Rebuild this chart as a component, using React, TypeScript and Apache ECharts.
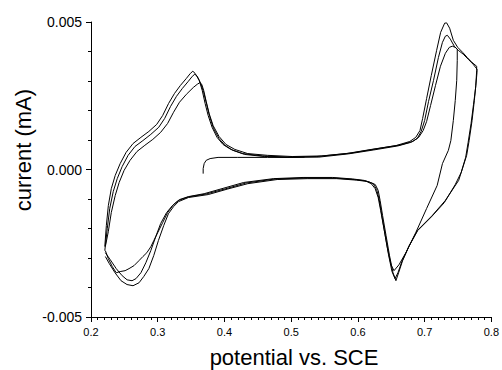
import React, { useEffect, useRef } from "react";
import * as echarts from "echarts";

// potential (V vs. SCE), current (mA)
const initialSweep: number[][] = [
  [0.3681, -0.00014], [0.3681, 0.00003], [0.3696, 0.0002], [0.3726, 0.00031],
  [0.3785, 0.00037], [0.3904, 0.00041], [0.42, 0.00041], [0.4644, 0.00041],
  [0.494, 0.00041], [0.52, 0.00042],
];

const cycleOuter: number[][] = [
  [0.2207, -0.00261], [0.223, -0.0019], [0.226, -0.00122], [0.2304, -0.00065],
  [0.2363, -0.0002], [0.2437, 0.0002], [0.2526, 0.00058], [0.263, 0.00088],
  [0.2748, 0.00109], [0.2867, 0.00129], [0.2985, 0.00153], [0.3074, 0.00183],
  [0.3163, 0.00224], [0.3252, 0.00258], [0.334, 0.00285], [0.343, 0.00309],
  [0.349, 0.00326], [0.3526, 0.00333], [0.356, 0.00326], [0.3622, 0.00302],
  [0.3667, 0.00268], [0.371, 0.00224], [0.3756, 0.00183], [0.3815, 0.00143],
  [0.3889, 0.00109], [0.3978, 0.00085], [0.4096, 0.00068], [0.4274, 0.00054],
  [0.457, 0.00046], [0.494, 0.00042], [0.5385, 0.00044], [0.583, 0.00054],
  [0.62, 0.00068], [0.657, 0.00081], [0.6778, 0.00095], [0.6867, 0.00109],
  [0.693, 0.00132], [0.697, 0.00173], [0.703, 0.00241], [0.71, 0.00319],
  [0.718, 0.00404], [0.724, 0.00465], [0.73, 0.00496], [0.733, 0.00497],
  [0.7375, 0.00479], [0.743, 0.00438], [0.7496, 0.00414], [0.757, 0.00397],
  [0.7637, 0.0038], [0.771, 0.00363], [0.778, 0.0035],
  [0.778, 0.00336], [0.7767, 0.00285], [0.7745, 0.00234], [0.7711, 0.00166],
  [0.7667, 0.00098], [0.763, 0.00048], [0.751, -0.00037], [0.731, -0.00105],
  [0.7114, -0.00156], [0.689, -0.00207], [0.677, -0.00258], [0.667, -0.00309],
  [0.661, -0.0035], [0.657, -0.00377], [0.6526, -0.0035], [0.6474, -0.00292],
  [0.6422, -0.00224], [0.637, -0.00156], [0.6333, -0.00105], [0.6304, -0.00071],
  [0.626, -0.00051], [0.6156, -0.00041], [0.598, -0.00036], [0.568, -0.00031],
  [0.524, -0.00031], [0.479, -0.00034], [0.435, -0.00048], [0.405, -0.00066],
  [0.3756, -0.00085], [0.346, -0.00095], [0.331, -0.00109], [0.3237, -0.00126],
  [0.316, -0.0015], [0.309, -0.0019], [0.301, -0.00241], [0.294, -0.00292],
  [0.2867, -0.00336], [0.279, -0.00363], [0.272, -0.00384], [0.263, -0.00394],
  [0.254, -0.0039], [0.245, -0.00377], [0.236, -0.0035], [0.2274, -0.00319],
  [0.2215, -0.00295],
];

const cycleMiddle: number[][] = [
  [0.2207, -0.00275], [0.2244, -0.002], [0.2281, -0.00132], [0.2333, -0.00075],
  [0.2393, -0.00031], [0.2467, 0.0001], [0.2556, 0.00048], [0.2659, 0.00078],
  [0.2778, 0.00098], [0.2896, 0.00119], [0.3015, 0.00143], [0.3104, 0.00173],
  [0.3193, 0.00214], [0.3281, 0.00248], [0.337, 0.00275], [0.3459, 0.00299],
  [0.3519, 0.00316], [0.3556, 0.00323], [0.3593, 0.00316], [0.3644, 0.00292],
  [0.3689, 0.00261], [0.3733, 0.00221], [0.3778, 0.0018], [0.3837, 0.00139],
  [0.3919, 0.00105], [0.4007, 0.00082], [0.4126, 0.00065], [0.4304, 0.00051],
  [0.46, 0.00044], [0.497, 0.00041], [0.5415, 0.00042], [0.5859, 0.00053],
  [0.623, 0.00066], [0.66, 0.0008], [0.6793, 0.00092], [0.6889, 0.00105],
  [0.6948, 0.00129], [0.7, 0.00166], [0.7059, 0.00231], [0.7133, 0.00302],
  [0.7207, 0.0038], [0.7267, 0.00431], [0.7311, 0.00452], [0.7341, 0.00455],
  [0.7385, 0.00442], [0.7444, 0.00418], [0.7504, 0.00404], [0.7578, 0.00391],
  [0.7652, 0.00374], [0.7726, 0.00357], [0.7785, 0.0034],
  [0.7785, 0.00329], [0.7763, 0.00275], [0.7733, 0.00221], [0.7696, 0.00156],
  [0.7652, 0.00092], [0.7615, 0.00041], [0.7548, -0.0001], [0.7459, -0.00051],
  [0.7296, -0.00112], [0.7104, -0.0016], [0.6896, -0.00207], [0.6763, -0.00261],
  [0.6659, -0.00312], [0.66, -0.0035], [0.6556, -0.0037], [0.6511, -0.00346],
  [0.6459, -0.00289], [0.6407, -0.00221], [0.6356, -0.00153], [0.6319, -0.00102],
  [0.6281, -0.00068], [0.623, -0.00048], [0.6126, -0.00039], [0.5948, -0.00034],
  [0.5652, -0.00029], [0.5207, -0.00029], [0.4763, -0.00032], [0.4319, -0.00046],
  [0.4022, -0.00065], [0.3726, -0.00083], [0.3459, -0.00093], [0.3311, -0.00105],
  [0.3222, -0.00122], [0.3133, -0.00146], [0.3044, -0.00183], [0.297, -0.00228],
  [0.2896, -0.00275], [0.2822, -0.00316], [0.2748, -0.0035], [0.2674, -0.0037],
  [0.2615, -0.00377], [0.2541, -0.00374], [0.2467, -0.0036], [0.2378, -0.00336],
  [0.2289, -0.00306], [0.2215, -0.00282],
];

const cycleInner: number[][] = [
  [0.2215, -0.00261], [0.2259, -0.00211], [0.2304, -0.00146], [0.2363, -0.00088],
  [0.2422, -0.00044], [0.2496, -0.00003], [0.2585, 0.00031], [0.2689, 0.00061],
  [0.2807, 0.00082], [0.2926, 0.00102], [0.3044, 0.00126], [0.3148, 0.00156],
  [0.3237, 0.00194], [0.3326, 0.00228], [0.343, 0.00255], [0.3533, 0.00278],
  [0.3593, 0.00289], [0.363, 0.00294], [0.3659, 0.00289], [0.3689, 0.00268],
  [0.3726, 0.00231], [0.377, 0.0019], [0.383, 0.00149], [0.3919, 0.00112],
  [0.4022, 0.00085], [0.4156, 0.00068], [0.4348, 0.00054], [0.4644, 0.00048],
  [0.5015, 0.00044], [0.5459, 0.00046], [0.5904, 0.00056], [0.6274, 0.0007],
  [0.663, 0.00083], [0.6822, 0.00095], [0.6911, 0.00109], [0.6978, 0.00132],
  [0.703, 0.00163], [0.7089, 0.00217], [0.7163, 0.00285], [0.7237, 0.0035],
  [0.7311, 0.00394], [0.737, 0.00414], [0.7415, 0.00418], [0.7459, 0.00414],
  [0.7489, 0.00408],
  [0.7489, 0.0037], [0.7481, 0.00302], [0.7459, 0.00234], [0.743, 0.00166],
  [0.7393, 0.00098], [0.7356, 0.00065], [0.7267, 0.0002], [0.7188, -0.00054],
  [0.703, -0.00132], [0.6867, -0.00214], [0.6719, -0.00282], [0.6615, -0.00323],
  [0.6541, -0.00343], [0.6496, -0.00323], [0.6444, -0.00268], [0.6393, -0.00204],
  [0.6341, -0.00139], [0.6304, -0.00095], [0.6259, -0.00065], [0.62, -0.00048],
  [0.6096, -0.00037], [0.5919, -0.00032], [0.5622, -0.00027], [0.5178, -0.00027],
  [0.4733, -0.00031], [0.4289, -0.00044], [0.3993, -0.00063], [0.3696, -0.00082],
  [0.3459, -0.00092], [0.3326, -0.00102], [0.3237, -0.00119], [0.3148, -0.00146],
  [0.3074, -0.0018], [0.3, -0.00214], [0.2941, -0.00241], [0.2896, -0.00262],
  [0.2837, -0.00282], [0.2778, -0.00295], [0.2719, -0.00309], [0.2644, -0.00326],
  [0.257, -0.00336], [0.2511, -0.00343], [0.2437, -0.00346], [0.2378, -0.0035],
  [0.2319, -0.00329], [0.2259, -0.00302], [0.2215, -0.00275],
];

const xTitle = "potential vs. SCE";
const yTitle = "current (mA)";

const FONT = "'Liberation Sans', Arial, Helvetica, sans-serif";

export default function App() {
  const ref = useRef<HTMLDivElement>(null);
  useEffect(() => {
    document.body.style.margin = "0";
    if (!ref.current) return;
    const chart = echarts.init(ref.current, null, { renderer: "svg" });
    const lineSeries = (name: string, data: number[][]) => ({
      name,
      type: "line",
      data,
      showSymbol: false,
      symbol: "none",
      smooth: false,
      lineStyle: { color: "#000", width: 1 },
      itemStyle: { color: "#000" },
      silent: true,
    });
    chart.setOption({
      animation: false,
      backgroundColor: "#fff",
      grid: { left: 91, right: 5, top: 22, bottom: 53, containLabel: false },
      xAxis: {
        type: "value",
        min: 0.2,
        max: 0.8,
        interval: 0.1,
        axisLine: { show: true, onZero: false, lineStyle: { color: "#000", width: 1 } },
        axisTick: { show: true, inside: false, length: 5, lineStyle: { color: "#000" } },
        minorTick: { show: true, splitNumber: 10, length: 3, lineStyle: { color: "#000" } },
        splitLine: { show: false },
        axisLabel: {
          color: "#000",
          fontSize: 11,
          fontFamily: FONT,
          margin: 9,
          formatter: (v: number) => v.toFixed(1),
        },
      },
      yAxis: {
        type: "value",
        min: -0.005,
        max: 0.005,
        interval: 0.005,
        axisLine: { show: true, onZero: false, lineStyle: { color: "#000", width: 1 } },
        axisTick: { show: true, inside: false, length: 5, lineStyle: { color: "#000" } },
        minorTick: { show: true, splitNumber: 5, length: 3, lineStyle: { color: "#000" } },
        splitLine: { show: false },
        axisLabel: {
          color: "#000",
          fontSize: 14,
          fontFamily: FONT,
          margin: 9,
          formatter: (v: number) => v.toFixed(3),
        },
      },
      graphic: [
        {
          type: "text",
          x: 294,
          y: 357,
          style: {
            text: xTitle,
            fontSize: 22,
            fontFamily: FONT,
            fill: "#000",
            textAlign: "center",
            textVerticalAlign: "middle",
          },
        },
        {
          type: "text",
          x: 23,
          y: 150,
          rotation: Math.PI / 2,
          style: {
            text: yTitle,
            fontSize: 22,
            fontFamily: FONT,
            fill: "#000",
            textAlign: "center",
            textVerticalAlign: "middle",
          },
        },
      ],
      series: [
        lineSeries("initial", initialSweep),
        lineSeries("cycle outer", cycleOuter),
        lineSeries("cycle middle", cycleMiddle),
        lineSeries("cycle inner", cycleInner),
      ],
    });
    return () => chart.dispose();
  }, []);
  return <div ref={ref} style={{ width: 502, height: 370 }} />;
}
